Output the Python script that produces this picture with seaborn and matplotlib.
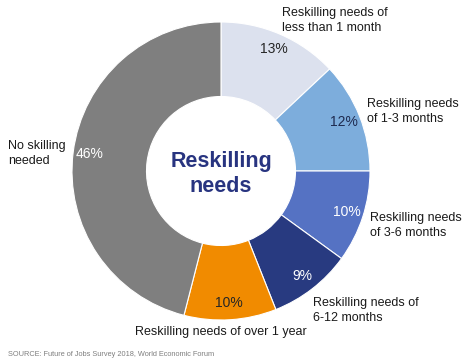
import matplotlib
matplotlib.use('Agg')
import matplotlib.pyplot as plt
import seaborn as sns

categories = [
    'Reskilling needs of\nless than 1 month',
    'Reskilling needs\nof 1-3 months',
    'Reskilling needs\nof 3-6 months',
    'Reskilling needs of\n6-12 months',
    'Reskilling needs of over 1 year',
    'No skilling\nneeded',
]
shares = [13, 12, 10, 9, 10, 46]
center_title = 'Reskilling\nneeds'
source = 'SOURCE: Future of Jobs Survey 2018, World Economic Forum'

colors = ['#DCE1EE', '#7DADDC', '#5572C3', '#283A80', '#F18B00', '#7F7F7F']
pct_colors = ['#262626', '#1F2B50', 'white', 'white', '#262626', 'white']

# label spots in pixels (left/top), picked by eye
label_spots = [
    (282, 7, 'left'),
    (367, 98, 'left'),
    (370, 212, 'left'),
    (313, 297, 'left'),
    (221, 326, 'center'),
    (8, 140, 'left'),
]

W, H = 474, 363


def main():
    sns.set_theme(style='white')
    plt.rcParams['font.family'] = ['Liberation Sans', 'DejaVu Sans']

    fig = plt.figure(figsize=(W / 100, H / 100), dpi=100)
    cx, cy, r = 221, 171, 149
    ax = fig.add_axes([(cx - r) / W, (H - cy - r) / H, 2 * r / W, 2 * r / H])

    wedges, _, autotexts = ax.pie(
        shares, colors=colors, startangle=90, counterclock=False,
        autopct='%d%%', pctdistance=0.89, radius=1,
        wedgeprops=dict(width=0.5, edgecolor='white', linewidth=0.8),
        textprops=dict(fontsize=10),
    )
    for t, c in zip(autotexts, pct_colors):
        t.set_color(c)
    ax.set_xlim(-1, 1)
    ax.set_ylim(-1, 1)
    ax.set_aspect('equal')
    ax.axis('off')

    ax.text(0, -0.02, center_title, ha='center', va='center', fontsize=15.5,
            fontweight='bold', color='#283480', linespacing=1.2)

    for lab, (x, y, ha) in zip(categories, label_spots):
        fig.text(x / W, 1 - y / H, lab, ha=ha, va='top', fontsize=9,
                 color='#1a1a1a', linespacing=1.3)

    fig.text(8 / W, 1 - 355 / H, source, ha='left', va='center',
             fontsize=5.3, color='#7f7f7f')

    fig.savefig('out.png', dpi=100, facecolor='white')


if __name__ == '__main__':
    main()
